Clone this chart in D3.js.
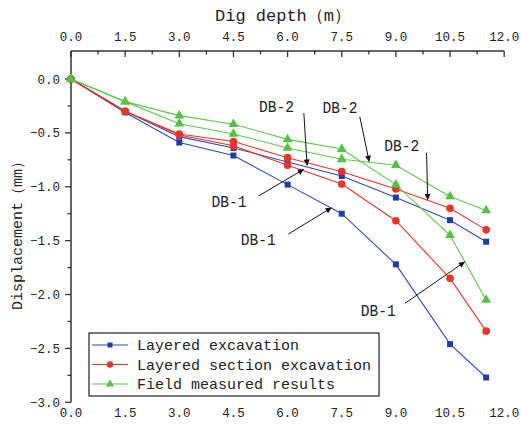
<!DOCTYPE html>
<html><head><meta charset="utf-8">
<script src="https://cdn.jsdelivr.net/npm/d3@7"></script>
<style>
html,body{margin:0;padding:0;background:#fff;}
svg{display:block;}
text{font-family:"Liberation Mono",monospace;fill:#222;}
</style></head><body>
<svg id="c" width="521" height="431"></svg>
<script>
const depth = [0, 1.5, 3.0, 4.5, 6.0, 7.5, 9.0, 10.5, 11.5];
const layeredDB1 = [0, -0.31, -0.59, -0.71, -0.98, -1.25, -1.72, -2.46, -2.77];
const layeredDB2 = [0, -0.30, -0.535, -0.64, -0.77, -0.90, -1.10, -1.31, -1.51];
const sectionDB1 = [0, -0.30, -0.52, -0.62, -0.80, -0.975, -1.315, -1.85, -2.34];
const sectionDB2 = [0, -0.30, -0.51, -0.58, -0.73, -0.86, -1.02, -1.20, -1.40];
const fieldDB1 = [0, -0.21, -0.34, -0.42, -0.56, -0.65, -0.98, -1.45, -2.05];
const fieldDB2 = [0, -0.21, -0.415, -0.51, -0.64, -0.745, -0.80, -1.09, -1.22];
const xTicks = [0, 1.5, 3.0, 4.5, 6.0, 7.5, 9.0, 10.5, 12.0];
const yTicks = [0, -0.5, -1.0, -1.5, -2.0, -2.5, -3.0];
const legendLabels = ["Layered excavation", "Layered section excavation", "Field measured results"];
const xTitle = "Dig depth\uff08m\uff09";
const yTitle = "Displacement\uff08mm\uff09";
// annotations in data units: label, text position, arrow start, arrow end
const notes = [
  {t:"DB-2", tx:5.69, ty:-0.246, x1:6.45, y1:-0.316, x2:6.54, y2:-0.803},
  {t:"DB-2", tx:7.45, ty:-0.255, x1:8.00, y1:-0.35, x2:8.26, y2:-0.767},
  {t:"DB-2", tx:9.16, ty:-0.608, x1:9.85, y1:-0.684, x2:9.88, y2:-1.123},
  {t:"DB-1", tx:4.38, ty:-1.123, x1:5.19, y1:-1.086, x2:6.45, y2:-0.838},
  {t:"DB-1", tx:5.19, ty:-1.478, x1:6.02, y1:-1.439, x2:7.22, y2:-1.194},
  {t:"DB-1", tx:8.51, ty:-2.137, x1:9.25, y1:-2.082, x2:10.91, y2:-1.696}
];

const colors = {blue:"#2f4bb0", red:"#e8352a", green:"#5cc94c"};
const markFill = {blue:"#1f3ca5", red:"#e8352a", green:"#55c244"};

const svg = d3.select("#c");
const x = d3.scaleLinear().domain([0, 12]).range([71, 504.2]);
const y = d3.scaleLinear().domain([0, -3]).range([79, 402.3]);
const fmt = d3.format(".1f");

// top axis line + ticks (inward)
const g = svg.append("g");
g.append("line").attr("x1", x(0)).attr("x2", x(12)).attr("y1", 51).attr("y2", 51)
  .attr("stroke", "#333").attr("stroke-width", 1.5);
d3.range(0, 12.001, 0.75).forEach((v, i) => {
  const major = i % 2 === 0;
  g.append("line").attr("x1", x(v)).attr("x2", x(v)).attr("y1", 51).attr("y2", 51 + (major ? 6 : 3.5))
    .attr("stroke", "#333").attr("stroke-width", 1.3);
});
xTicks.forEach(v => {
  g.append("text").attr("x", x(v)).attr("y", 40.5).attr("text-anchor", "middle")
    .attr("font-size", 12.5).text(fmt(v));
  g.append("text").attr("x", x(v)).attr("y", 416.5).attr("text-anchor", "middle")
    .attr("font-size", 12.5).text(fmt(v));
});
g.append("text").attr("x", 283).attr("y", 21).attr("text-anchor", "middle")
  .attr("font-size", 17).text(xTitle);

// left axis
g.append("line").attr("x1", 71).attr("x2", 71).attr("y1", 51).attr("y2", y(-3))
  .attr("stroke", "#333").attr("stroke-width", 1.5);
d3.range(0, -3.001, -0.25).forEach((v, i) => {
  const major = i % 2 === 0;
  g.append("line").attr("x1", 71 - (major ? 6 : 3.5)).attr("x2", 71).attr("y1", y(v)).attr("y2", y(v))
    .attr("stroke", "#333").attr("stroke-width", 1.3);
});
yTicks.forEach(v => {
  g.append("text").attr("x", 60).attr("y", y(v) + 4.5).attr("text-anchor", "end")
    .attr("font-size", 12.5).text(fmt(v));
});
g.append("text").attr("transform", "translate(22,232) rotate(-90)").attr("text-anchor", "middle")
  .attr("font-size", 15).text(yTitle);

// series
const series = [
  {v: layeredDB2, c: "blue", m: "square"},
  {v: layeredDB1, c: "blue", m: "square"},
  {v: sectionDB2, c: "red", m: "circle"},
  {v: sectionDB1, c: "red", m: "circle"},
  {v: fieldDB2, c: "green", m: "triangle"},
  {v: fieldDB1, c: "green", m: "triangle"}
];
const line = d3.line().x(d => x(d[0])).y(d => y(d[1]));
const sym = {square: d3.symbolSquare, circle: d3.symbolCircle, triangle: d3.symbolTriangle};
const size = {square: 36, circle: 46, triangle: 42};
series.forEach(s => {
  const pts = depth.map((d, i) => [d, s.v[i]]);
  svg.append("path").attr("d", line(pts)).attr("fill", "none")
    .attr("stroke", colors[s.c]).attr("stroke-width", 1.1);
  svg.append("g").selectAll("path").data(pts).join("path")
    .attr("transform", d => `translate(${x(d[0])},${y(d[1])})`)
    .attr("d", d3.symbol().type(sym[s.m]).size(size[s.m]))
    .attr("fill", markFill[s.c]);
});

// annotations
const defs = svg.append("defs");
defs.append("marker").attr("id", "ah").attr("viewBox", "0 0 10 10").attr("refX", 10).attr("refY", 5)
  .attr("markerWidth", 10).attr("markerHeight", 6).attr("markerUnits", "userSpaceOnUse").attr("orient", "auto")
  .append("path").attr("d", "M0,0 L10,5 L0,10 Z").attr("fill", "#111");
notes.forEach(n => {
  svg.append("line").attr("x1", x(n.x1)).attr("y1", y(n.y1)).attr("x2", x(n.x2)).attr("y2", y(n.y2))
    .attr("stroke", "#111").attr("stroke-width", 1).attr("marker-end", "url(#ah)");
  svg.append("text").attr("x", x(n.tx)).attr("y", y(n.ty) + 6.5).attr("text-anchor", "middle")
    .attr("font-size", 17).attr("textLength", 35).attr("lengthAdjust", "spacingAndGlyphs").text(n.t);
});

// legend
const lg = svg.append("g");
lg.append("rect").attr("x", 89).attr("y", 333).attr("width", 290).attr("height", 63)
  .attr("fill", "#fff").attr("stroke", "#222").attr("stroke-width", 1.2);
const legItems = [["blue", "square"], ["red", "circle"], ["green", "triangle"]];
legItems.forEach((it, i) => {
  const yy = 345 + i * 19.5;
  lg.append("line").attr("x1", 92).attr("x2", 128).attr("y1", yy).attr("y2", yy)
    .attr("stroke", colors[it[0]]).attr("stroke-width", 1.1);
  lg.append("path").attr("transform", `translate(110,${yy})`)
    .attr("d", d3.symbol().type(sym[it[1]]).size(size[it[1]] * 0.7)).attr("fill", markFill[it[0]]);
  lg.append("text").attr("x", 137).attr("y", yy + 5).attr("font-size", 15).text(legendLabels[i]);
});
</script>
</body></html>
